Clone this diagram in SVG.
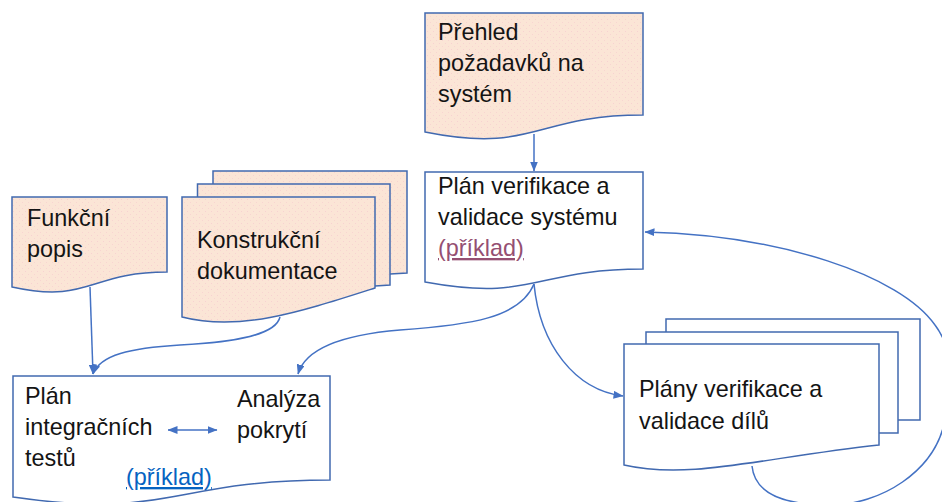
<svg xmlns="http://www.w3.org/2000/svg" width="942" height="502" viewBox="0 0 942 502">
  <defs>
    <!-- peach fill with a faint pink speckle -->
    <pattern id="speckle" width="6" height="6" patternUnits="userSpaceOnUse">
      <rect width="6" height="6" fill="#FBE5D6"/>
      <circle cx="1.5" cy="1.5" r="0.55" fill="#EFA3C6" opacity="0.35"/>
      <circle cx="4.5" cy="4.5" r="0.55" fill="#EFA3C6" opacity="0.3"/>
    </pattern>
    <marker id="arrow" viewBox="0 0 10 8" refX="9.5" refY="4" markerWidth="10" markerHeight="8" markerUnits="userSpaceOnUse" orient="auto-start-reverse">
      <path d="M0,0 L10,4 L0,8 Z" fill="#4472C4"/>
    </marker>
    <style>
      .doc { stroke: #4169B0; stroke-width: 1.5; stroke-linejoin: miter; }
      .peach { fill: url(#speckle); }
      .plain { fill: #FFFFFF; }
      .label { font-family: "Liberation Sans", Arial, sans-serif; font-size: 23.4px; fill: #141414; }
      .link-visited { fill: #954F72; text-decoration: underline; }
      .link { fill: #0563C1; text-decoration: underline; }
      .conn { fill: none; stroke: #4472C4; stroke-width: 1.5; }
    </style>
  </defs>

  <!-- document: requirements overview -->
  <g id="prehled">
    <path class="doc peach" d="M425,13 H643 V115 C534,115 534,154 425,132 Z"/>
    <text class="label" x="438" y="40">Přehled</text>
    <text class="label" x="438" y="71">požadavků na</text>
    <text class="label" x="438" y="102">systém</text>
  </g>

  <!-- document: system V&V plan -->
  <g id="plan-vv-systemu">
    <path class="doc plain" d="M425,172 H643 V269 C534,269 534,302 425,282 Z"/>
    <text class="label" x="438" y="194">Plán verifikace a</text>
    <text class="label" x="438" y="225">validace systému</text>
    <text class="label link-visited" x="438" y="256">(příklad)</text>
  </g>

  <!-- multi-document: design documentation -->
  <g id="konstrukcni-dokumentace">
    <path class="doc peach" d="M213,184 V171 H407 V273 L390,274"/>
    <path class="doc peach" d="M197.5,197 V184 H390 V285 L375,286"/>
    <path class="doc peach" d="M182,197 H375 V288 C300,312 240,332 182,317 Z"/>
    <text class="label" x="197" y="248">Konstrukční</text>
    <text class="label" x="197" y="279">dokumentace</text>
  </g>

  <!-- document: functional description -->
  <g id="funkcni-popis">
    <path class="doc peach" d="M12,197 H167 V272 C89,272 89,304 12,287 Z"/>
    <text class="label" x="27" y="226">Funkční</text>
    <text class="label" x="27" y="257">popis</text>
  </g>

  <!-- document: integration test plan and coverage analysis -->
  <g id="plan-integracnich-testu">
    <path class="doc plain" d="M13,376 H330 V480 C171,480 171,520 13,497 Z"/>
    <text class="label" x="25" y="404">Plán</text>
    <text class="label" x="25" y="435">integračních</text>
    <text class="label" x="25" y="466">testů</text>
    <text class="label" x="237" y="407">Analýza</text>
    <text class="label" x="237" y="438">pokrytí</text>
    <text class="label link" x="126" y="485">(příklad)</text>
  </g>

  <!-- multi-document: component V&V plans -->
  <g id="plany-vv-dilu">
    <path class="doc plain" d="M666,332 V319 H920 V420 L898,420"/>
    <path class="doc plain" d="M646,344 V332 H898 V433 L879,433"/>
    <path class="doc plain" d="M624,344 H879 V445 C760,458 690,480 624,465 Z"/>
    <text class="label" x="639" y="397">Plány verifikace a</text>
    <text class="label" x="639" y="429">validace dílů</text>
  </g>

  <!-- connectors -->
  <g id="connectors">
    <path class="conn" d="M534,134 L534,171" marker-end="url(#arrow)"/>
    <path class="conn" d="M90,287 L93,374" marker-end="url(#arrow)"/>
    <path class="conn" d="M280,317 C276,334 240,342 180,345 C130,348 100,355 93,374" marker-end="url(#arrow)"/>
    <path class="conn" d="M534,284 C520,318 470,325 400,330 C340,335 305,350 298,374" marker-end="url(#arrow)"/>
    <path class="conn" d="M534,284 C540,345 575,390 623,396" marker-end="url(#arrow)"/>
    <path class="conn" d="M752,466 C755,497 790,505 830,505 C880,505 935,472 945,420 C955,370 950,345 935,325 C900,275 780,235 645,232" marker-end="url(#arrow)"/>
    <path class="conn" d="M168,430 L217,430" marker-start="url(#arrow)" marker-end="url(#arrow)"/>
  </g>
</svg>
